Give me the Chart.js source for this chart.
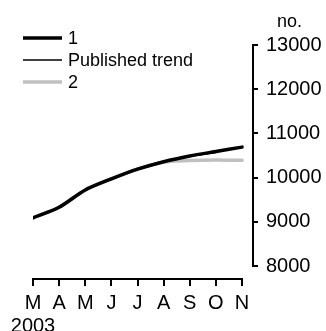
<!DOCTYPE html>
<html>
<head>
<meta charset="utf-8">
<script src="https://cdn.jsdelivr.net/npm/chart.js@4/dist/chart.umd.min.js"></script>
<style>
  html, body { margin: 0; padding: 0; background: #fff; }
  #wrap { width: 326px; height: 331px; position: relative; }
</style>
</head>
<body>
<div id="wrap"><canvas id="c" width="326" height="331"></canvas></div>
<script>
// ---- data ----
const MONTHS = ['M', 'A', 'M', 'J', 'J', 'A', 'S', 'O', 'N'];
const YEAR = '2003';
const SERIES_1 = [9090, 9330, 9720, 9970, 10190, 10360, 10490, 10590, 10690];
const PUBLISHED_TREND = [9090, 9330, 9720, 9970, 10190, 10360, 10480, 10565, null];
const SERIES_2 = [9090, 9330, 9720, 9970, 10190, 10350, 10385, 10400, 10390];
const Y_TICKS = [8000, 9000, 10000, 11000, 12000, 13000];
const UNIT = 'no.';
const NAMES = ['1', 'Published trend', '2'];

const FONT = 'Liberation Sans, Arial, sans-serif';
const toPts = arr => arr.map((v, i) => ({ x: i, y: v }));

const axisPlugin = {
  id: 'axes',
  afterDraw(chart) {
    const ctx = chart.ctx;
    const xs = chart.scales.x, ys = chart.scales.y;
    const ca = chart.chartArea;
    ctx.save();
    ctx.strokeStyle = '#000';
    ctx.lineWidth = 2;
    ctx.lineCap = 'square';
    ctx.beginPath();
    ctx.moveTo(xs.getPixelForValue(0), ca.bottom);
    ctx.lineTo(xs.getPixelForValue(MONTHS.length - 1), ca.bottom);
    ctx.stroke();
    ctx.beginPath();
    ctx.moveTo(ca.right, ys.getPixelForValue(Y_TICKS[Y_TICKS.length - 1]));
    ctx.lineTo(ca.right, ys.getPixelForValue(Y_TICKS[0]));
    ctx.stroke();
    ctx.fillStyle = '#000';
    ctx.font = '18px ' + FONT;
    ctx.textBaseline = 'middle';
    ctx.textAlign = 'left';
    ctx.fillText(UNIT, ca.right + 24, 22);
    const ds = chart.data.datasets;
    [0, 1, 2].forEach((k, row) => {
      const d = ds[k];
      const y = 38 + row * 22;
      ctx.strokeStyle = d.borderColor;
      ctx.lineWidth = d.borderWidth;
      ctx.lineCap = 'butt';
      ctx.beginPath();
      ctx.moveTo(23, y);
      ctx.lineTo(62, y);
      ctx.stroke();
      ctx.fillStyle = '#000';
      ctx.font = '18px ' + FONT;
      ctx.fillText(d.label, 68, y + 1);
    });
    ctx.restore();
  }
};

new Chart(document.getElementById('c'), {
  type: 'line',
  data: {
    datasets: [
      { label: NAMES[0], data: toPts(SERIES_1), borderColor: '#000', borderWidth: 3.5, order: 0 },
      { label: NAMES[1], data: toPts(PUBLISHED_TREND), borderColor: '#000', borderWidth: 1.5, order: 1 },
      { label: NAMES[2], data: toPts(SERIES_2), borderColor: '#c0c0c0', borderWidth: 3.5, order: 2 }
    ]
  },
  options: {
    responsive: false,
    animation: false,
    devicePixelRatio: 1,
    layout: { padding: { left: 33, top: 45, right: 0, bottom: 0 } },
    elements: {
      point: { radius: 0 },
      line: { tension: 0.3, fill: false, borderCapStyle: 'round' }
    },
    plugins: { legend: { display: false }, tooltip: { enabled: false } },
    scales: {
      x: {
        type: 'linear',
        min: 0,
        max: 8.42,
        afterBuildTicks: s => { s.ticks = MONTHS.map((m, i) => ({ value: i })); },
        afterFit: s => { s.height = 52; },
        border: { display: false },
        grid: { drawOnChartArea: false, tickLength: 7, color: '#000', lineWidth: 2 },
        ticks: {
          autoSkip: false,
          maxRotation: 0,
          padding: 6,
          color: '#000',
          font: { family: FONT, size: 20, lineHeight: 1.15 },
          callback: v => (v === 0 ? [MONTHS[0], YEAR] : MONTHS[v])
        }
      },
      y: {
        position: 'right',
        min: 7706,
        max: 13000,
        afterBuildTicks: s => { s.ticks = Y_TICKS.map(v => ({ value: v })); },
        afterFit: s => { s.width = 73; },
        border: { display: false },
        grid: { drawOnChartArea: false, tickLength: 5, color: '#000', lineWidth: 2 },
        ticks: {
          padding: 8,
          color: '#000',
          font: { family: FONT, size: 20 },
          callback: v => String(v)
        }
      }
    }
  },
  plugins: [axisPlugin]
});
</script>
</body>
</html>
